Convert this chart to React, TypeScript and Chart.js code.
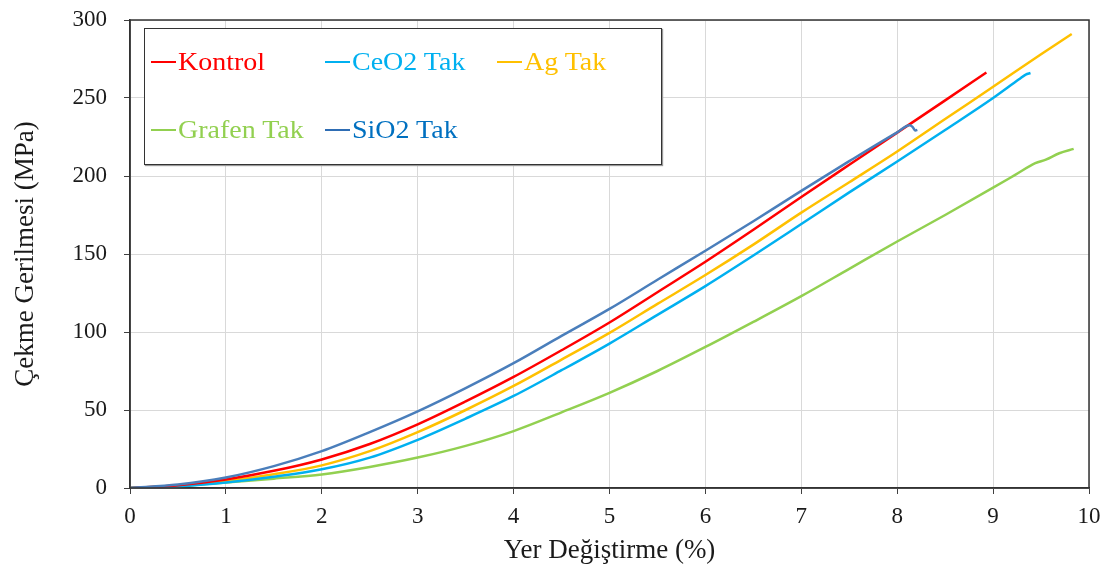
import React, { useEffect, useRef } from "react";
import { Chart, registerables } from "chart.js";

Chart.register(...registerables);

// ---- data ----
const kontrolX = [0, 0.5, 1, 1.5, 2, 2.5, 3, 3.5, 4, 4.5, 5, 5.5, 6, 6.5, 7, 7.5, 8, 8.5, 8.93];
const kontrolY = [0, 1.8, 5.5, 11, 18.3, 28.2, 40.8, 55.5, 71.2, 88.3, 106.1, 125.5, 145, 165.5, 186.5, 207.2, 227.8, 248.5, 266.4];

const ceo2X = [0, 0.5, 1, 1.5, 2, 2.5, 3, 3.5, 4, 4.5, 5, 5.5, 6, 6.5, 7, 7.5, 8, 8.5, 9, 9.27, 9.34, 9.39];
const ceo2Y = [0, 1, 3.5, 7.2, 12, 19.5, 30.9, 44.5, 59, 75.5, 92.6, 111, 129.4, 149, 169.2, 189.5, 209.3, 229.5, 250, 262, 265, 266];

const agX = [0, 0.5, 1, 1.5, 2, 2.5, 3, 3.5, 4, 4.5, 5, 5.5, 6, 6.5, 7, 7.5, 8, 8.5, 9, 9.5, 9.82];
const agY = [0, 1.4, 4.4, 8.8, 14.5, 23.6, 35.8, 50, 65.4, 82.3, 99.4, 118, 136.5, 156, 176.5, 196, 215.7, 236.5, 257.2, 278, 291];

const grafenX = [0, 0.5, 1, 1.5, 2, 2.5, 3, 3.5, 4, 4.5, 5, 5.5, 6, 6.5, 7, 7.5, 8, 8.5, 9, 9.23, 9.44, 9.55, 9.69, 9.84];
const grafenY = [0, 1.2, 3.6, 6, 8.7, 13.5, 19.5, 27, 36.5, 48.5, 61, 75, 90.4, 106.5, 123, 140.5, 158, 175, 192.5, 200.7, 208.2, 210.5, 214.6, 217.4];

const sio2X = [0, 0.5, 1, 1.5, 2, 2.5, 3, 3.5, 4, 4.5, 5, 5.5, 6, 6.5, 7, 7.5, 8, 8.13, 8.16, 8.19, 8.21];
const sio2Y = [0, 2.2, 6.7, 14, 23.6, 35.8, 49.1, 64, 80, 97.5, 114.8, 133.5, 152.1, 171, 190.5, 209.5, 228, 232.5, 231.5, 229.2, 229.6];

const seriesNames = ["Kontrol", "CeO2 Tak", "Ag Tak", "Grafen Tak", "SiO2 Tak"];
const lineColors = ["#FF0000", "#00B0F0", "#FFC000", "#92D050", "#4A7EBB"];
const legendTextColors = ["#FF0000", "#00B0F0", "#FFC000", "#92D050", "#0070C0"];
const legendMarkColors = ["#FF0000", "#00B0F0", "#FFC000", "#92D050", "#2E6DB4"];

const xTitle = "Yer Değiştirme (%)";
const yTitle = "Çekme Gerilmesi (MPa)";
const xMin = 0, xMax = 10, xStep = 1;
const yMin = 0, yMax = 300, yStep = 50;

const allX = [kontrolX, ceo2X, agX, grafenX, sio2X];
const allY = [kontrolY, ceo2Y, agY, grafenY, sio2Y];
const drawOrder = [1, 1, 1, 1, 0];

const FONT = "'Liberation Serif', 'Times New Roman', serif";

const framePlugin = {
  id: "frame",
  afterDraw(chart: any) {
    const { ctx, chartArea: a } = chart;
    ctx.save();
    ctx.strokeStyle = "#333333";
    ctx.lineWidth = 1.5;
    ctx.strokeRect(a.left, a.top, a.right - a.left, a.bottom - a.top);
    ctx.restore();
  },
};

// legend layout (positions only)
const legendItems = [
  { i: 0, left: 151, top: 62 },
  { i: 1, left: 325, top: 62 },
  { i: 2, left: 497, top: 62 },
  { i: 3, left: 151, top: 130 },
  { i: 4, left: 325, top: 130 },
];

export default function App() {
  const ref = useRef<HTMLCanvasElement | null>(null);

  useEffect(() => {
    document.body.style.margin = "0";
    document.body.style.overflow = "hidden";
    const canvas = ref.current;
    if (!canvas) return;
    const datasets = seriesNames.map((name, k) => ({
      label: name,
      data: allX[k].map((x, j) => ({ x, y: allY[k][j] })),
      borderColor: lineColors[k],
      backgroundColor: lineColors[k],
      borderWidth: 2.5,
      pointRadius: 0,
      cubicInterpolationMode: "monotone" as const,
      fill: false,
      order: drawOrder[k],
    }));
    const chart = new Chart(canvas, {
      type: "line",
      data: { datasets },
      plugins: [framePlugin],
      options: {
        animation: false,
        responsive: false,
        maintainAspectRatio: false,
        layout: { padding: { top: 20, right: 25, left: 0, bottom: 0 } },
        plugins: { legend: { display: false }, tooltip: { enabled: false } },
        scales: {
          x: {
            type: "linear",
            min: xMin,
            max: xMax,
            afterFit: (s: any) => { s.height = 82; s.paddingLeft = 0; s.paddingRight = 0; },
            ticks: { stepSize: xStep, color: "#1a1a1a", font: { family: FONT, size: 23 }, padding: 9, maxRotation: 0 },
            grid: { color: "#d9d9d9", lineWidth: 1, tickLength: 6, tickColor: "#404040" },
            border: { display: true, color: "#333333", width: 1.5 },
            title: { display: true, text: xTitle, color: "#1a1a1a", font: { family: FONT, size: 27 }, padding: { top: 0, bottom: 3 } },
          },
          y: {
            type: "linear",
            min: yMin,
            max: yMax,
            afterFit: (s: any) => { s.width = 130; s.paddingTop = 0; s.paddingBottom = 0; },
            ticks: { stepSize: yStep, color: "#1a1a1a", font: { family: FONT, size: 23 }, padding: 17 },
            grid: { color: "#d9d9d9", lineWidth: 1, tickLength: 6, tickColor: "#404040" },
            border: { display: true, color: "#333333", width: 1.5 },
            title: { display: true, text: yTitle, color: "#1a1a1a", font: { family: FONT, size: 27 }, padding: { top: 10, bottom: 0 } },
          },
        },
      },
    });
    return () => chart.destroy();
  }, []);

  return (
    <div style={{ position: "relative", width: 1114, height: 570, background: "#fff" }}>
      <canvas ref={ref} width={1114} height={570} style={{ display: "block", width: 1114, height: 570 }} />
      <div
        style={{
          position: "absolute",
          left: 144,
          top: 28,
          width: 518,
          height: 137,
          border: "1.5px solid #333",
          boxShadow: "1px 1px 1px #999",
          background: "#fff",
          boxSizing: "border-box",
        }}
      />
      {legendItems.map(({ i, left, top }) => (
        <div
          key={i}
          style={{
            position: "absolute",
            left,
            top,
            transform: "translateY(-50%)",
            display: "flex",
            alignItems: "center",
            whiteSpace: "nowrap",
          }}
        >
          <span style={{ display: "inline-block", width: 25, height: 2.5, background: legendMarkColors[i] }} />
          <span
            style={{
              display: "inline-block",
              marginLeft: 2,
              fontFamily: FONT,
              fontSize: 25,
              lineHeight: "30px",
              color: legendTextColors[i],
              transform: "scaleX(1.12)",
              transformOrigin: "left center",
            }}
          >
            {seriesNames[i]}
          </span>
        </div>
      ))}
    </div>
  );
}
